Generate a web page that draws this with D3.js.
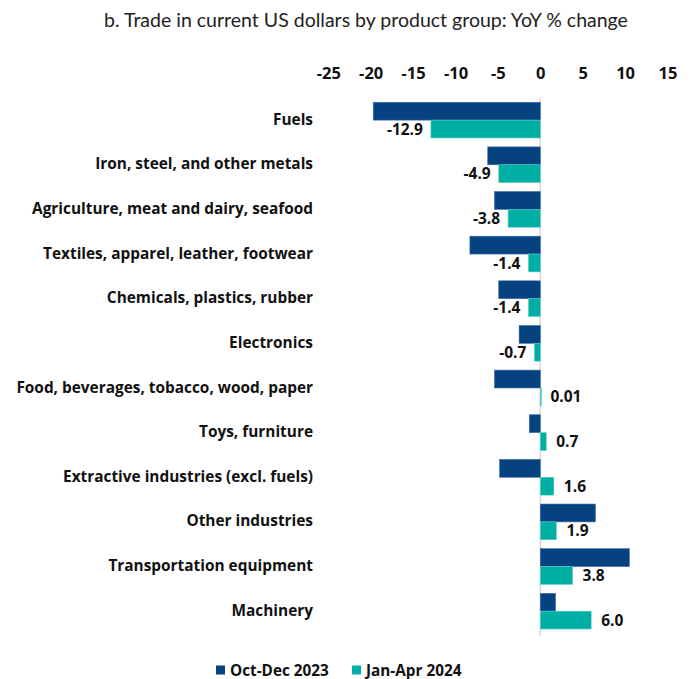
<!DOCTYPE html>
<html>
<head>
<meta charset="utf-8">
<script src="https://cdn.jsdelivr.net/npm/d3@7"></script>
<style>
  body { margin: 0; background: #fff; }
  text { font-family: "Open Sans", sans-serif; }
</style>
</head>
<body>
<div id="chart"></div>
<script>
// Product groups, top to bottom
const categories = [
  "Fuels",
  "Iron, steel, and other metals",
  "Agriculture, meat and dairy, seafood",
  "Textiles, apparel, leather, footwear",
  "Chemicals, plastics, rubber",
  "Electronics",
  "Food, beverages, tobacco, wood, paper",
  "Toys, furniture",
  "Extractive industries (excl. fuels)",
  "Other industries",
  "Transportation equipment",
  "Machinery"
];
const seriesNames = ["Oct-Dec 2023", "Jan-Apr 2024"];
// YoY % change (Oct-Dec, Jan-Apr from the labels)
const octDec = [-19.7, -6.2, -5.4, -8.3, -4.9, -2.5, -5.4, -1.3, -4.8, 6.5, 10.5, 1.8];
const janApr = [-12.9, -4.9, -3.8, -1.4, -1.4, -0.7, 0.01, 0.7, 1.6, 1.9, 3.8, 6.0];
const janAprLabels = ["-12.9", "-4.9", "-3.8", "-1.4", "-1.4", "-0.7", "0.01", "0.7", "1.6", "1.9", "3.8", "6.0"];
const xTicks = [-25, -20, -15, -10, -5, 0, 5, 10, 15];

const width = 697, height = 679;
const colors = ["#05427f", "#00afa3"];

const svg = d3.select("#chart").append("svg")
  .attr("width", width)
  .attr("height", height);

// Title
svg.append("text")
  .attr("x", 366)
  .attr("y", 27)
  .attr("text-anchor", "middle")
  .style("font-family", "Lato, sans-serif")
  .style("font-size", "19.5px")
  .style("fill", "#222")
  .text("b. Trade in current US dollars by product group: YoY % change");

const x = d3.scaleLinear().domain([-25, 15]).range([328.3, 667.5]);

const y = d3.scaleBand()
  .domain(categories)
  .range([97.8, 633.5])
  .paddingInner(0.2)
  .paddingOuter(0.1);

const ySub = d3.scaleBand()
  .domain(seriesNames)
  .range([0, y.bandwidth()]);

// X axis on top
const xAxis = svg.append("g")
  .attr("transform", "translate(0,75)")
  .call(d3.axisTop(x).tickValues(xTicks).tickSize(0).tickFormat(d => String(d)));
xAxis.select(".domain").remove();
xAxis.selectAll("text")
  .style("font-family", "'Open Sans', sans-serif")
  .style("font-size", "16.5px")
  .style("font-weight", "bold")
  .style("fill", "#111")
  .attr("dy", "0.4em");

// Zero line
svg.append("line")
  .attr("x1", x(0)).attr("x2", x(0))
  .attr("y1", 97).attr("y2", 636)
  .attr("stroke", "#d9d9d9")
  .attr("stroke-width", 1.5);

// Bars
const rows = categories.map((c, i) => ({ cat: c, vals: [octDec[i], janApr[i]], label: janAprLabels[i] }));

const rowG = svg.selectAll(".row")
  .data(rows)
  .join("g")
  .attr("class", "row")
  .attr("transform", d => `translate(0,${y(d.cat)})`);

rowG.selectAll("rect")
  .data(d => d.vals.map((v, k) => ({ v: v, k: k })))
  .join("rect")
  .attr("x", d => x(Math.min(0, d.v)))
  .attr("width", d => Math.max(1, Math.abs(x(d.v) - x(0))))
  .attr("y", d => ySub(seriesNames[d.k]))
  .attr("height", ySub.bandwidth())
  .attr("fill", d => colors[d.k])
  .attr("stroke", d => d.k === 0 ? "#3c6da3" : "#5fd0c8")
  .attr("stroke-width", 0.6);

// Value labels for Jan-Apr 2024
rowG.append("text")
  .attr("x", d => d.vals[1] < 0 ? x(d.vals[1]) - 8 : x(d.vals[1]) + 10)
  .attr("y", ySub(seriesNames[1]) + ySub.bandwidth() / 2)
  .attr("dy", "0.36em")
  .attr("text-anchor", d => d.vals[1] < 0 ? "end" : "start")
  .style("font-size", "15.5px")
  .style("font-weight", "bold")
  .style("fill", "#111")
  .text(d => d.label);

// Category labels
svg.selectAll(".cat")
  .data(categories)
  .join("text")
  .attr("class", "cat")
  .attr("x", 313)
  .attr("y", d => y(d) + y.bandwidth() / 2 - 1)
  .attr("dy", "0.36em")
  .attr("text-anchor", "end")
  .style("font-size", "15.4px")
  .style("font-weight", "bold")
  .style("fill", "#111")
  .text(d => d);

// Legend
const legendX = [216, 352];
const legend = svg.selectAll(".leg")
  .data(seriesNames)
  .join("g")
  .attr("class", "leg")
  .attr("transform", (d, i) => `translate(${legendX[i]},670)`);

legend.append("rect")
  .attr("x", 0).attr("y", -4.5)
  .attr("width", 9).attr("height", 9)
  .attr("fill", (d, i) => colors[i]);

legend.append("text")
  .attr("x", 14)
  .attr("dy", "0.36em")
  .style("font-size", "15.3px")
  .style("font-weight", "bold")
  .style("fill", "#111")
  .text(d => d);
</script>
</body>
</html>
